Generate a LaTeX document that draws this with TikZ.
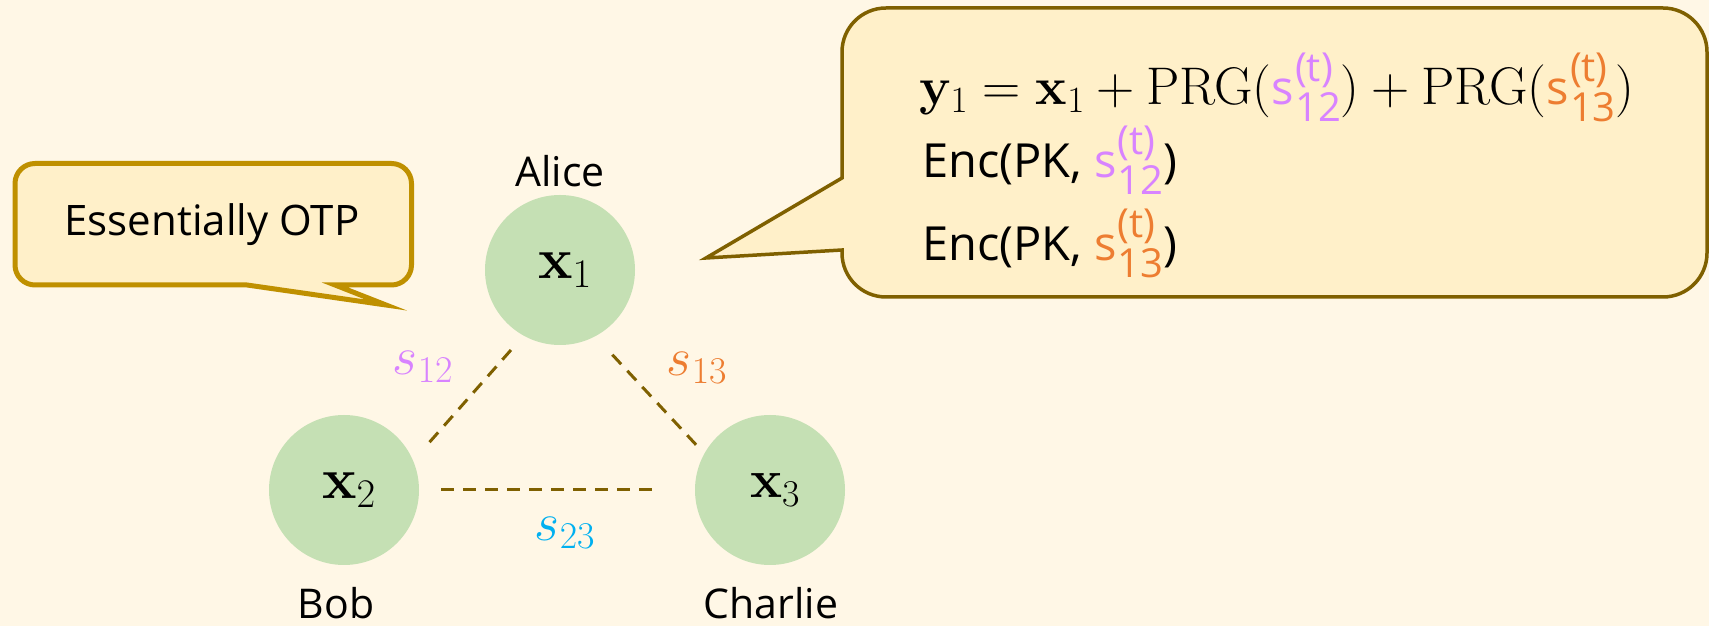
\RequirePackage{fix-cm}
\documentclass[tikz,border=0pt]{standalone}
\usepackage{amsmath}
\usepackage[no-math]{fontspec}
\setmainfont{Open Sans}
\definecolor{bgc}{HTML}{FFF7E6}
\definecolor{callfill}{HTML}{FFF0C9}
\definecolor{nodegreen}{HTML}{C5E0B4}
\definecolor{goldline}{HTML}{BF9000}
\definecolor{darkgold}{HTML}{7F6000}
\definecolor{vio}{HTML}{D883FF}
\definecolor{ora}{HTML}{ED7D31}
\definecolor{cya}{HTML}{00B0F0}
\newcommand{\skey}[2]{{\color{#1}\fontsize{47}{50}\selectfont s\kern1pt\rlap{\raisebox{23pt}{\fontsize{40}{40}\selectfont (t)}}\raisebox{-17pt}{\fontsize{40}{40}\selectfont #2}}}
\begin{document}
\begin{tikzpicture}[x=1pt,y=1pt,
  party/.style={circle,fill=nodegreen,minimum size=150pt,inner sep=0pt,font=\fontsize{58}{60}\selectfont},
  partylabel/.style={anchor=base,inner sep=0pt,font=\fontsize{41}{44}\selectfont},
  link/.style={draw=darkgold,line width=3pt,dash pattern=on 13pt off 9pt},
  keylbl/.style={inner sep=0pt,font=\fontsize{54}{56}\selectfont},
  calltext/.style={anchor=base west,inner sep=0pt,font=\fontsize{47}{52}\selectfont}]
\fill[bgc] (0,0) rectangle (1709,626);
\useasboundingbox (0,0) rectangle (1709,626);
% left callout
\draw[goldline,fill=callfill,line width=5pt,line join=miter]
  (15,361) -- (15,442.5) arc[start angle=180,end angle=90,radius=20]
  -- (391.5,462.5) arc[start angle=90,end angle=0,radius=20]
  -- (411.5,361) arc[start angle=0,end angle=-90,radius=20]
  -- (335,341) -- (386,321) -- (247,341)
  -- (35,341) arc[start angle=270,end angle=180,radius=20] -- cycle;
\node[inner sep=0pt,font=\fontsize{42}{46}\selectfont] (otp) at (212,401) {Essentially OTP};
% right callout
\draw[darkgold,fill=callfill,line width=3.5pt,line join=miter]
  (842,448) -- (842,574) arc[start angle=180,end angle=90,radius=44]
  -- (1663,618) arc[start angle=90,end angle=0,radius=44]
  -- (1707,373) arc[start angle=0,end angle=-90,radius=44]
  -- (886,329) arc[start angle=270,end angle=180,radius=44]
  -- (842,376) -- (706,368) -- cycle;
\node[calltext,font=\fontsize{53}{56}\selectfont] (line1) at (919,521) {$\mathbf{y}_1 = \mathbf{x}_1 + \mathrm{PRG}(\mbox{\skey{vio}{12}}) + \mathrm{PRG}(\mbox{\skey{ora}{13}})$};
\node[calltext] (line2) at (922,448) {Enc(PK, \skey{vio}{12})};
\node[calltext] (line3) at (922,365) {Enc(PK, \skey{ora}{13})};
% parties
\node[party] (alice) at (560,356) {\hspace*{10pt}$\mathbf{x}_1$};
\node[party] (bob) at (344,136) {\hspace*{10pt}$\mathbf{x}_2$};
\node[party,font=\fontsize{54}{56}\selectfont] (charlie) at (770,136) {\hspace*{10pt}$\mathbf{x}_3$};
\node[partylabel] (alicename) at (560,439) {Alice};
\node[partylabel] (bobname) at (336,7) {Bob};
\node[partylabel] (charliename) at (771,7) {Charlie};
% links
\draw[link,shorten <=19pt,shorten >=17pt] (alice.241) -- (bob.23);
\draw[link,shorten <=25pt,shorten >=12pt] (alice.298) -- (charlie.151);
\draw[link,shorten <=22pt,shorten >=35pt] (bob.east) -- (charlie.west);
\node[keylbl,text=vio] (s12) at (423,259) {$s_{12}$};
\node[keylbl,text=ora] (s13) at (697,258) {$s_{13}$};
\node[keylbl,text=cya] (s23) at (565,93) {$s_{23}$};
\end{tikzpicture}
\end{document}
